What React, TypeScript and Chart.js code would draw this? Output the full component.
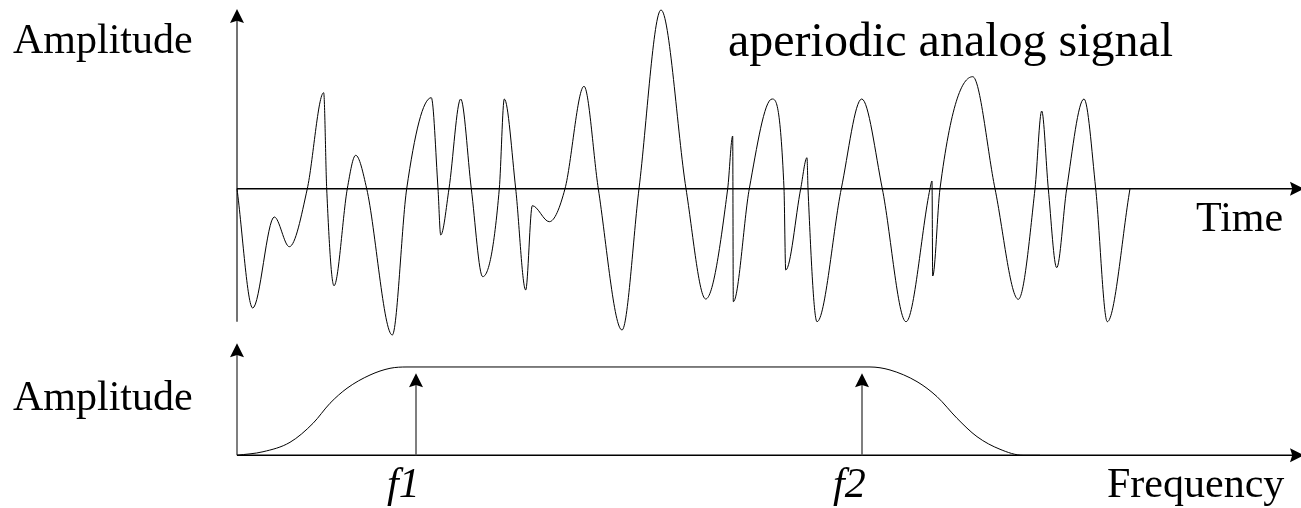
import React, { useEffect, useRef } from "react";
import { Chart, registerables } from "chart.js";

Chart.register(...registerables);

// ---- Top panel: aperiodic analog signal (time units, amplitude units) ----
const signalTime = [
  0, 1.57, 3.73, 5.23, 7.03, 8.67, 8.97, 9.7, 11.03, 11.87, 12.97, 15.53, 16.97,
  19.43, 20.1, 20.37, 21.2, 22.37, 23.43, 24.57, 26.23, 26.73, 27.87, 28.87,
  29.53, 31.23, 32.8, 34.7, 36.13, 38.5, 40.2, 42.4, 44.9, 46.87, 49.07, 49.57,
  49.63, 51.23, 53.5, 54.7, 54.87, 56.37, 57.0, 57.1, 58.0, 60.43, 62.47, 64.53,
  66.9, 69.3, 69.5, 69.57, 70.3, 73.57, 75.8, 78.13, 79.8, 80.47, 81.13, 81.97,
  82.97, 84.7, 85.87, 87.03, 89.3,
];
const signalAmp = [
  0, -11.93, -2.83, -5.8, 0, 9.6, 0, -9.7, 0, 3.34, 0, -14.63, 0,
  9.1, 0, -4.63, 0, 8.97, 0, -8.8, 0, 8.97, 0, -10.13,
  -1.7, -3.3, 0, 10.24, 0, -14.13, 0, 17.87, 0, -11.03, 0, 5.27,
  -11.3, 0, 8.97, 0, -8.13, 0, 3.1, 0, -13.3, 0, 8.97, 0,
  -13.3, 0, 0.77, -8.73, 0, 11.2, 0, -11.06, 0, 7.77, 0, -7.9,
  0, 8.97, 0, -13.3, 0,
];

// ---- Bottom panel: band-pass magnitude spectrum ----
const freqAxis = [0, 2.6, 5.3, 7.6, 9.3, 11.0, 13.3, 15.3, 17.0, 63.3, 65.3, 68.0, 70.0, 72.0, 74.0, 76.3, 78.6, 80.3];
const freqAmp = [0, 0.04, 0.147, 0.362, 0.589, 0.759, 0.909, 0.985, 1.0, 1.0, 0.966, 0.834, 0.664, 0.419, 0.211, 0.068, 0, 0];
const cutoffFreqs = [17.9, 62.5];
const cutoffLabels = ["f1", "f2"];

const titleText = "aperiodic analog signal";
const amplitudeLabel = "Amplitude";
const timeLabel = "Time";
const frequencyLabel = "Frequency";

const FONT = '"Liberation Serif", "Times New Roman", serif';

function arrow(ctx: CanvasRenderingContext2D, x1: number, y1: number, x2: number, y2: number, color: string, lw: number) {
  const len = 14;
  const hw = 7;
  const ang = Math.atan2(y2 - y1, x2 - x1);
  const cos = Math.cos(ang);
  const sin = Math.sin(ang);
  ctx.save();
  ctx.strokeStyle = color;
  ctx.lineWidth = lw;
  ctx.beginPath();
  ctx.moveTo(x1, y1);
  ctx.lineTo(x2 - cos * len * 0.7, y2 - sin * len * 0.7);
  ctx.stroke();
  ctx.fillStyle = "#000";
  ctx.beginPath();
  ctx.moveTo(x2, y2);
  ctx.lineTo(x2 - cos * len - sin * hw, y2 - sin * len + cos * hw);
  ctx.lineTo(x2 - cos * len * 0.84, y2 - sin * len * 0.84);
  ctx.lineTo(x2 - cos * len + sin * hw, y2 - sin * len - cos * hw);
  ctx.closePath();
  ctx.fill();
  ctx.restore();
}

const diagramPlugin = {
  id: "diagram",
  beforeDatasetsDraw(chart: any) {
    const ctx = chart.ctx as CanvasRenderingContext2D;
    const sx = chart.scales.x;
    const sy = chart.scales.y;
    const fx = chart.scales.xf;
    const fy = chart.scales.yf;
    // top axes
    const x0 = sx.getPixelForValue(0);
    arrow(ctx, x0, sy.getPixelForValue(-13.3), x0, sy.getPixelForValue(17.97), "#444", 1.5);
    const yz = sy.getPixelForValue(0);
    arrow(ctx, x0, yz, sx.getPixelForValue(106.7), yz, "#000", 1.6);
    // bottom axes
    const f0 = fx.getPixelForValue(0);
    const b0 = fy.getPixelForValue(0);
    arrow(ctx, f0, b0, f0, fy.getPixelForValue(1.27), "#555", 1.5);
    arrow(ctx, f0, b0, fx.getPixelForValue(106.7), b0, "#000", 1.6);
    cutoffFreqs.forEach((f) => {
      const px = fx.getPixelForValue(f);
      arrow(ctx, px, b0, px, fy.getPixelForValue(0.93), "#555", 1.5);
    });
  },
  afterDraw(chart: any) {
    const ctx = chart.ctx as CanvasRenderingContext2D;
    const fx = chart.scales.xf;
    ctx.save();
    ctx.fillStyle = "#000";
    ctx.textBaseline = "alphabetic";
    ctx.textAlign = "left";
    ctx.font = `48px ${FONT}`;
    ctx.fillText(titleText, 728, 56);
    ctx.font = `42px ${FONT}`;
    ctx.fillText(amplitudeLabel, 13, 53);
    ctx.fillText(amplitudeLabel, 13, 410);
    ctx.fillText(timeLabel, 1196, 231);
    ctx.fillText(frequencyLabel, 1107, 497);
    ctx.font = `italic 42px ${FONT}`;
    cutoffLabels.forEach((lab, i) => {
      ctx.fillText(lab, fx.getPixelForValue(cutoffFreqs[i]) - 29, 497);
    });
    ctx.restore();
  },
};

export default function App() {
  const ref = useRef<HTMLCanvasElement | null>(null);
  useEffect(() => {
    if (!ref.current) return;
    const chart = new Chart(ref.current, {
      type: "line",
      data: {
        datasets: [
          {
            data: signalTime.map((t, i) => ({ x: t, y: signalAmp[i] })),
            xAxisID: "x",
            yAxisID: "y",
            borderColor: "#000",
            borderWidth: 1,
            pointRadius: 0,
            cubicInterpolationMode: "monotone",
            fill: false,
            clip: false,
          },
          {
            data: freqAxis.map((f, i) => ({ x: f, y: freqAmp[i] })),
            xAxisID: "xf",
            yAxisID: "yf",
            borderColor: "#000",
            borderWidth: 1,
            pointRadius: 0,
            cubicInterpolationMode: "monotone",
            fill: false,
            clip: false,
          },
        ],
      },
      options: {
        responsive: false,
        animation: false,
        devicePixelRatio: 1,
        layout: { padding: 0 },
        plugins: { legend: { display: false }, tooltip: { enabled: false }, title: { display: false } },
        events: [],
        scales: {
          x: { type: "linear", display: false, min: -23.7, max: 106.4 },
          y: { type: "linear", display: false, min: -31.93, max: 18.87 },
          xf: { type: "linear", display: false, min: -23.7, max: 106.4 },
          yf: { type: "linear", display: false, min: -0.597, max: 5.156 },
        },
      } as any,
      plugins: [diagramPlugin],
    });
    return () => chart.destroy();
  }, []);
  return (
    <div style={{ position: "absolute", left: 0, top: 0, width: 1301, height: 508, background: "#fff" }}>
      <canvas ref={ref} width={1301} height={508} style={{ display: "block" }} />
    </div>
  );
}
